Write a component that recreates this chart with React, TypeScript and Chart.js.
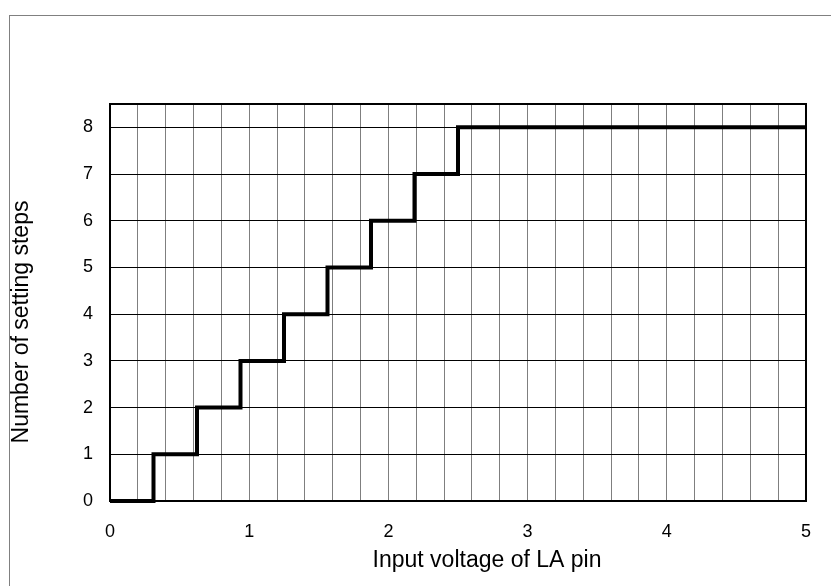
import React, { useEffect, useRef } from "react";
import { Chart, registerables } from "chart.js";

Chart.register(...registerables);

const stepVoltages = [0, 0.3125, 0.625, 0.9375, 1.25, 1.5625, 1.875, 2.1875, 2.5, 5];
const stepCounts = [0, 1, 2, 3, 4, 5, 6, 7, 8, 8];
const xTitle = "Input voltage of LA pin";
const yTitle = "Number of setting steps";

const FONT = "'Liberation Sans', Arial, Helvetica, sans-serif";
const TITLE_SIZE = 23;
const TICK_SIZE = 18;

const frame = {
  id: "frame",
  beforeDraw(chart: any) {
    const ctx = chart.ctx;
    ctx.save();
    ctx.fillStyle = "#ffffff";
    ctx.fillRect(0, 0, chart.width, chart.height);
    ctx.strokeStyle = "#808080";
    ctx.lineWidth = 1;
    ctx.strokeRect(9.5, 15.5, chart.width + 20, chart.height + 20);
    ctx.restore();
  },
  afterDatasetsDraw(chart: any) {
    const ctx = chart.ctx;
    const a = chart.chartArea;
    ctx.save();
    ctx.strokeStyle = "#000000";
    ctx.lineWidth = 2;
    ctx.strokeRect(a.left, a.top, a.right - a.left, a.bottom - a.top);
    ctx.fillStyle = "#000000";
    ctx.font = `${TITLE_SIZE}px ${FONT}`;
    ctx.textAlign = "center";
    ctx.textBaseline = "middle";
    ctx.fillText(xTitle, 487, 561);
    ctx.translate(22, 322);
    ctx.rotate(-Math.PI / 2);
    ctx.fillText(yTitle, 0, 0);
    ctx.restore();
  },
};

export default function App() {
  const ref = useRef<HTMLCanvasElement>(null);
  useEffect(() => {
    if (!ref.current) return;
    const data = stepVoltages.map((v, i) => ({ x: v, y: stepCounts[i] }));
    const chart = new Chart(ref.current, {
      type: "line",
      data: {
        datasets: [
          {
            data,
            stepped: "before",
            borderColor: "#000000",
            borderWidth: 4,
            pointRadius: 0,
            fill: false,
            clip: false as any,
          },
        ],
      },
      options: {
        animation: false,
        responsive: false,
        maintainAspectRatio: false,
        events: [],
        layout: { padding: { left: 0, right: 23, top: 104, bottom: 0 } },
        plugins: { legend: { display: false }, tooltip: { enabled: false }, title: { display: false } },
        scales: {
          x: {
            type: "linear",
            min: 0,
            max: 5,
            afterFit(scale: any) {
              scale.height = 85;
            },
            ticks: {
              stepSize: 0.2,
              autoSkip: false,
              maxRotation: 0,
              padding: 20,
              color: "#000000",
              font: { family: FONT, size: TICK_SIZE },
              callback: (v: any) => {
                const n = Number(v);
                return Math.abs(n - Math.round(n)) < 1e-6 ? String(Math.round(n)) : "";
              },
            },
            grid: { color: "#7f7f7f", lineWidth: 1, drawTicks: false },
            border: { display: false },
            title: { display: false },
          },
          y: {
            type: "linear",
            min: 0,
            max: 8.5,
            afterFit(scale: any) {
              scale.width = 110;
            },
            ticks: {
              stepSize: 1,
              includeBounds: false,
              padding: 17,
              color: "#000000",
              font: { family: FONT, size: TICK_SIZE },
            },
            grid: { color: "#000000", lineWidth: 1, drawTicks: false },
            border: { display: false },
            title: { display: false },
          },
        },
      },
      plugins: [frame],
    });
    return () => chart.destroy();
  }, []);
  return (
    <div style={{ position: "fixed", left: 0, top: 0, width: 831, height: 586 }}>
      <canvas ref={ref} width={831} height={586} style={{ display: "block", width: 831, height: 586 }} />
    </div>
  );
}
